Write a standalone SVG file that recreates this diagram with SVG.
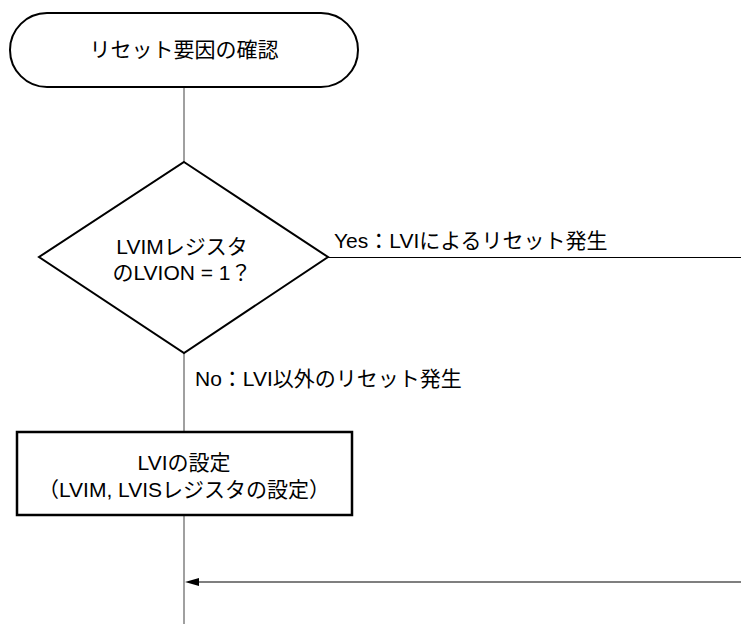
<svg xmlns="http://www.w3.org/2000/svg" width="741" height="624" viewBox="0 0 741 624">
<style>
  .shape { fill: #ffffff; stroke: #000000; stroke-width: 2; }
  .t { font-family: "Liberation Sans", "Noto Sans CJK JP", sans-serif; font-size: 21px; fill: #000000; }
  .c { text-anchor: middle; }
  .v { stroke: #808080; stroke-width: 1.5; fill: none; }
  .h { stroke: #000000; stroke-width: 1.2; fill: none; }
</style>
<g id="connectors">
  <line class="v" x1="184" y1="87" x2="184" y2="162"/>
  <line class="v" x1="184" y1="353" x2="184" y2="432"/>
  <line class="v" x1="184" y1="515" x2="184" y2="624"/>
  <line class="h" x1="328" y1="257.5" x2="741" y2="257.5"/>
  <line class="h" x1="741" y1="582" x2="199" y2="582"/>
  <path d="M185,582 L199,578 L199,586 Z" fill="#000000"/>
  <text class="t" x="334" y="248">Yes：LVIによるリセット発生</text>
  <text class="t" x="195" y="386">No：LVI以外のリセット発生</text>
</g>
<g id="start">
  <rect class="shape" x="10" y="13" width="348" height="74" rx="37" ry="37"/>
  <text class="t c" x="184" y="57">リセット要因の確認</text>
</g>
<g id="decision">
  <polygon class="shape" points="184,162 328,257 184,353 39,257"/>
  <text class="t c" x="182" y="254">LVIMレジスタ</text>
  <text class="t c" x="182" y="280">のLVION = 1？</text>
</g>
<g id="setup">
  <rect class="shape" x="17" y="432" width="335" height="83" style="stroke-width:2.5"/>
  <text class="t c" x="184" y="470">LVIの設定</text>
  <text class="t c" x="184" y="497">（LVIM, LVISレジスタの設定）</text>
</g>
</svg>
